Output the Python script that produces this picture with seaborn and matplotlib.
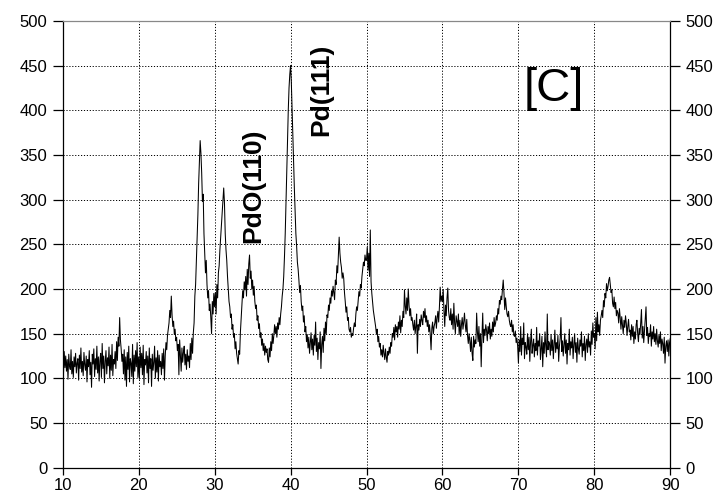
import numpy as np
import pandas as pd
import matplotlib
matplotlib.use("Agg")
import matplotlib.pyplot as plt
import seaborn as sns

# XRD counts sampled every 0.1 degree 2-theta, one list per decade
counts_10s = [
    118, 104, 130, 112, 125, 108, 121, 99, 127, 114,
    110, 132, 105, 119, 101, 124, 113, 128, 106, 117,
    122, 98, 126, 111, 134, 107, 119, 103, 129, 115,
    109, 125, 96, 121, 113, 131, 104, 118, 90, 127,
    116, 133, 102, 122, 110, 136, 106, 124, 97, 120,
    128, 101, 139, 111, 125, 95, 119, 131, 105, 123,
    114, 135, 100, 126, 109, 138, 103, 121, 116, 130,
    111, 141, 120, 146, 136, 168, 143, 133, 119, 127,
    105, 132, 98, 124, 91, 129, 110, 136, 96, 122,
    117, 102, 138, 94, 126, 108, 131, 113, 140, 101,
]
counts_20s = [
    124, 99, 135, 112, 128, 104, 137, 93, 121, 115,
    130, 106, 125, 95, 134, 111, 122, 91, 127, 109,
    118, 136, 100, 123, 107, 131, 97, 126, 113, 119,
    104, 128, 111, 133, 98, 125, 140, 132, 148, 155,
    162, 176, 168, 192, 171, 158, 164, 149, 155, 142,
    146, 131, 138, 104, 143, 126, 108, 134, 118, 129,
    136, 115, 127, 110, 132, 119, 125, 112, 139, 121,
    145, 128, 151, 162, 192, 205, 232, 262, 283, 318,
    343, 366, 352, 330, 298, 306, 262, 240, 218, 232,
    205, 190, 198, 176, 183, 168, 150, 186, 172, 195,
]
counts_30s = [
    180, 196, 172, 205, 190, 218, 226, 244, 258, 272,
    285, 300, 313, 296, 262, 244, 232, 214, 200, 186,
    180, 168, 172, 155, 160, 146, 150, 133, 141, 128,
    122, 116, 131, 127, 152, 168, 186, 198, 190, 208,
    199, 214, 192, 222, 205, 228, 238, 212, 220, 200,
    210, 193, 203, 186, 178, 182, 165, 170, 156, 161,
    146, 151, 137, 144, 131, 139, 126, 136, 129, 133,
    121, 118, 134, 124, 141, 131, 150, 139, 148, 160,
    150, 158, 146, 162, 155, 168, 160, 172, 180, 192,
    200, 214, 236, 262, 295, 330, 365, 400, 425, 440,
]
counts_40s = [
    450, 432, 402, 369, 340, 313, 288, 262, 248, 230,
    222, 210, 196, 204, 186, 176, 181, 163, 170, 152,
    158, 141, 149, 134, 146, 128, 139, 151, 132, 144,
    126, 148, 137, 163, 130, 145, 121, 140, 133, 152,
    111, 138, 147, 129, 156, 142, 163, 150, 171, 168,
    182, 176, 190, 184, 198, 192, 203, 196, 188, 210,
    205, 226, 218, 238, 258, 240, 230, 224, 212, 218,
    212, 196, 186, 174, 180, 165, 168, 155, 152, 157,
    146, 150, 148, 156, 162, 158, 172, 180, 176, 186,
    197, 192, 205, 201, 214, 222, 230, 226, 238, 232,
]
counts_50s = [
    232, 247, 221, 240, 214, 266, 208, 195, 186, 176,
    170, 164, 158, 150, 155, 141, 147, 135, 139, 126,
    132, 124, 137, 128, 121, 133, 124, 118, 130, 126,
    135, 128, 140, 136, 150, 146, 157, 143, 160, 152,
    158, 146, 163, 155, 170, 151, 165, 158, 175, 168,
    199, 181, 172, 190, 176, 200, 182, 170, 178, 165,
    168, 160, 154, 165, 150, 158, 172, 128, 160, 154,
    166, 158, 171, 165, 160, 175, 168, 178, 163, 170,
    158, 165, 152, 160, 148, 132, 156, 163, 150, 158,
    162, 170, 156, 168, 175, 163, 180, 202, 186, 192,
]
counts_60s = [
    186, 199, 175, 158, 182, 170, 190, 201, 176, 168,
    165, 178, 160, 172, 155, 184, 162, 150, 170, 164,
    158, 172, 149, 165, 147, 160, 168, 155, 163, 173,
    160, 152, 166, 148, 139, 150, 142, 130, 146, 128,
    120, 147, 135, 143, 139, 173, 152, 141, 158, 136,
    150, 113, 147, 173, 140, 155, 148, 160, 154, 142,
    158, 150, 162, 144, 155, 147, 163, 152, 168, 158,
    162, 170, 165, 178, 172, 187, 183, 192, 188, 200,
    210, 195, 177, 190, 180, 172, 169, 175, 165, 160,
    158, 165, 152, 160, 148, 147, 153, 140, 145, 136,
]
counts_70s = [
    117, 143, 130, 158, 126, 145, 138, 162, 122, 140,
    135, 127, 150, 132, 146, 119, 141, 155, 128, 137,
    144, 124, 139, 131, 157, 126, 142, 136, 150, 121,
    133, 147, 113, 140, 128, 152, 136, 124, 172, 132,
    141, 138, 126, 149, 131, 143, 122, 137, 154, 129,
    140, 133, 148, 119, 136, 145, 168, 130, 142, 125,
    137, 150, 128, 143, 116, 139, 132, 155, 126, 141,
    134, 146, 122, 138, 150, 129, 140, 118, 145, 133,
    127, 143, 136, 152, 124, 139, 131, 147, 120, 138,
    144, 129, 150, 135, 141, 126, 153, 138, 162, 146,
]
counts_80s = [
    150, 133, 168, 142, 174, 152, 160, 148, 165, 170,
    176, 168, 187, 180, 195, 190, 206, 198, 203, 210,
    213, 205, 196, 199, 184, 180, 191, 178, 185, 170,
    176, 173, 162, 178, 168, 155, 169, 160, 150, 165,
    157, 170, 162, 148, 158, 166, 152, 154, 143, 160,
    147, 158, 139, 152, 144, 160, 165, 150, 141, 156,
    149, 162, 177, 145, 158, 140, 153, 166, 180, 148,
    157, 139, 150, 147, 160, 136, 152, 144, 158, 141,
    150, 138, 155, 142, 135, 148, 139, 152, 131, 144,
    139, 128, 146, 117, 136, 142, 130, 143, 125, 140,
]
counts_end = [145]

x_ticks = [10, 20, 30, 40, 50, 60, 70, 80, 90]
y_ticks = [0, 50, 100, 150, 200, 250, 300, 350, 400, 450, 500]

counts = (counts_10s + counts_20s + counts_30s + counts_40s + counts_50s
          + counts_60s + counts_70s + counts_80s + counts_end)
two_theta = np.round(10 + 0.1 * np.arange(len(counts)), 1)
df = pd.DataFrame({"two_theta": two_theta, "counts": counts})

sns.set_style("white")
plt.rcParams["font.family"] = ["Liberation Sans", "DejaVu Sans"]
plt.rcParams["text.color"] = "black"
plt.rcParams["xtick.labelcolor"] = "black"
plt.rcParams["ytick.labelcolor"] = "black"

fig = plt.figure(figsize=(7.18, 4.96), dpi=100)
ax = fig.add_axes([0.0873, 0.057, 0.8463, 0.901])

sns.lineplot(data=df, x="two_theta", y="counts", ax=ax, color="black",
             linewidth=0.75, estimator=None, sort=False)

ax.set_xlim(10, 90)
ax.set_ylim(0, 500)
ax.set_xticks(x_ticks)
ax.set_yticks(y_ticks)
ax.set_xlabel("")
ax.set_ylabel("")

ax.grid(True, color="black", linestyle=(0, (1.2, 1.8)), linewidth=0.7)
ax.set_axisbelow(True)

for side in ["left", "bottom", "right"]:
    ax.spines[side].set_color("black")
    ax.spines[side].set_linewidth(0.9)
ax.spines["top"].set_color("#888888")
ax.spines["top"].set_linewidth(0.9)

ax.tick_params(axis="y", which="both", left=True, right=True,
               labelleft=True, labelright=True, direction="out",
               length=7, width=0.9, color="black", labelcolor="black",
               labelsize=12, pad=4)
ax.tick_params(axis="x", bottom=True, direction="out", length=5,
               width=0.9, color="black", labelcolor="black",
               labelsize=12, pad=2.5)

ax.text(35.04, 316, "PdO(110)", rotation=90, ha="center", va="center",
        fontsize=19, fontweight="bold", color="black")
ax.text(44.1, 423, "Pd(111)", rotation=90, ha="center", va="center",
        fontsize=19, fontweight="bold", color="black")
ax.text(74.7, 424, "[C]", ha="center", va="center", fontsize=34,
        color="black")

fig.savefig("out.png", dpi=100, facecolor="white")
